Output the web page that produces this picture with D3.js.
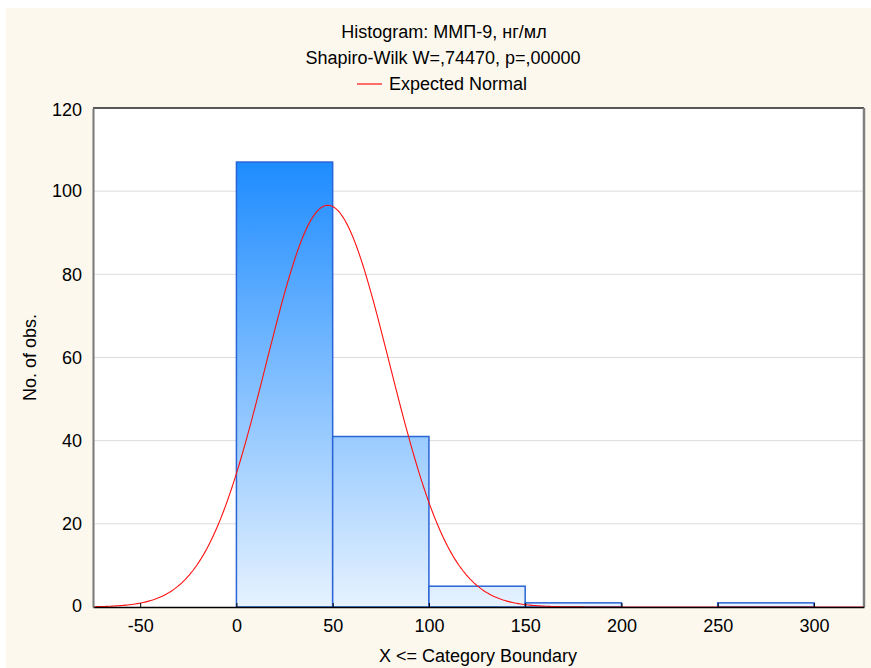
<!DOCTYPE html>
<html>
<head>
<meta charset="utf-8">
<script src="https://cdn.jsdelivr.net/npm/d3@7"></script>
<style>
  body { margin: 0; background: #ffffff; }
  text { font-family: "Liberation Sans", Arial, sans-serif; fill: #000; }
</style>
</head>
<body>
<div id="chart"></div>
<script>
// Histogram data (category upper boundaries, counts)
const binStarts = [0, 50, 100, 150, 200, 250];
const binWidth = 50;
const counts = [107, 41, 5, 1, 0, 1];
const xTicks = [-50, 0, 50, 100, 150, 200, 250, 300];
const yTicks = [0, 20, 40, 60, 80, 100, 120];
const titleLines = ["Histogram: ММП-9, нг/мл", "Shapiro-Wilk W=,74470, p=,00000"];

// fitted normal parameters
const fitMean = 47.5, fitSd = 32;
const nObs = d3.sum(counts);

const W = 871, H = 668;
const margin = { top: 108, right: 7, bottom: 61, left: 93 };
const width = W - margin.left - margin.right,
      height = H - margin.top - margin.bottom;
const fs = 18;

const svg = d3.select("#chart").append("svg")
  .attr("width", W).attr("height", H);

// cream background
svg.append("rect").attr("x", 6).attr("y", 8).attr("width", W - 6).attr("height", H - 8)
  .attr("fill", "#fdf8ee");

const g = svg.append("g").attr("transform", `translate(${margin.left},${margin.top})`);

const x = d3.scaleLinear().domain([-74.5, 326]).range([0, width]);
const y = d3.scaleLinear().domain([0, 120]).range([height, 0]);

g.append("rect").attr("width", width).attr("height", height).attr("fill", "#fff");

// gridlines
g.append("g").selectAll("line").data(yTicks.filter(d => d > 0 && d < 120)).join("line")
  .attr("x1", 0).attr("x2", width)
  .attr("y1", d => y(d)).attr("y2", d => y(d))
  .attr("stroke", "#dcdcdc").attr("stroke-width", 1);

// gradient for bars
const grad = svg.append("defs").append("linearGradient")
  .attr("id", "barGrad").attr("gradientUnits", "userSpaceOnUse")
  .attr("x1", 0).attr("x2", 0)
  .attr("y1", y(d3.max(counts))).attr("y2", y(0));
grad.append("stop").attr("offset", "0%").attr("stop-color", "#1e8cff");
grad.append("stop").attr("offset", "100%").attr("stop-color", "#e6f2ff");

const bins = binStarts.map((s, i) => ({ x0: s, x1: s + binWidth, n: counts[i] }));

g.append("g").selectAll("rect").data(bins).join("rect")
  .attr("x", d => x(d.x0))
  .attr("y", d => y(d.n))
  .attr("width", d => x(d.x1) - x(d.x0))
  .attr("height", d => y(0) - y(d.n))
  .attr("fill", "url(#barGrad)")
  .attr("stroke", "#2a64d6")
  .attr("stroke-width", 1.5);

// expected normal curve
const curvePts = d3.range(-74.5, 326, 1).map(v => ({
  v,
  f: nObs * binWidth * Math.exp(-0.5 * ((v - fitMean) / fitSd) ** 2) / (fitSd * Math.sqrt(2 * Math.PI))
}));
g.append("path").datum(curvePts)
  .attr("fill", "none").attr("stroke", "#ff1010").attr("stroke-width", 1.1)
  .attr("d", d3.line().x(d => x(d.v)).y(d => y(d.f)));

// frame
g.append("line").attr("x1", 0).attr("x2", width).attr("y1", 0).attr("y2", 0)
  .attr("stroke", "#222").attr("stroke-width", 1.5);
g.append("line").attr("x1", width).attr("x2", width).attr("y1", 0).attr("y2", height)
  .attr("stroke", "#808080").attr("stroke-width", 2.5);

// axes
const xAxis = g.append("g").attr("transform", `translate(0,${height})`)
  .call(d3.axisBottom(x).tickValues(xTicks).tickFormat(d => String(d))
    .tickSizeInner(-4).tickSizeOuter(0).tickPadding(12));
xAxis.select(".domain").attr("stroke", "#000").attr("stroke-width", 1.5);
xAxis.selectAll("text").attr("font-size", fs);

const yAxis = g.append("g")
  .call(d3.axisLeft(y).tickValues(yTicks).tickSize(0).tickPadding(11));
yAxis.select(".domain").attr("stroke", "#777").attr("stroke-width", 2);
yAxis.selectAll("text").attr("font-size", fs);
yAxis.selectAll(".tick").filter(d => d === 120).select("text").attr("dy", "0.4em");
yAxis.selectAll(".tick").filter(d => d === 0).select("text").attr("dy", "0.25em");

// titles
svg.append("text").attr("x", 444).attr("y", 38).attr("text-anchor", "middle")
  .attr("font-size", fs).text(titleLines[0]);
svg.append("text").attr("x", 443).attr("y", 64).attr("text-anchor", "middle")
  .attr("font-size", fs).text(titleLines[1]);
svg.append("line").attr("x1", 357).attr("x2", 382).attr("y1", 84).attr("y2", 84)
  .attr("stroke", "#ff1010").attr("stroke-width", 1.2);
svg.append("text").attr("x", 389).attr("y", 90).attr("font-size", fs).text("Expected Normal");

svg.append("text").attr("x", 478).attr("y", 662).attr("text-anchor", "middle")
  .attr("font-size", fs).text("X <= Category Boundary");
svg.append("text").attr("transform", `translate(36,${margin.top + height / 2}) rotate(-90)`)
  .attr("text-anchor", "middle").attr("font-size", fs).text("No. of obs.");
</script>
</body>
</html>
